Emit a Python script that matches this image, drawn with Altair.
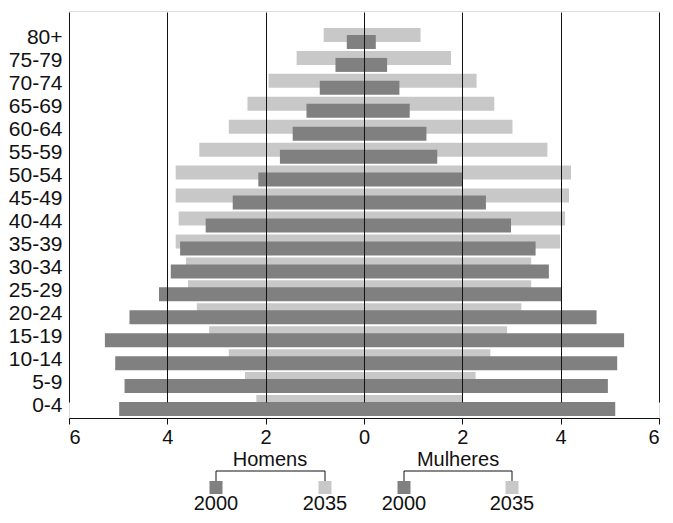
import altair as alt
import pandas as pd

ages = ["0-4", "5-9", "10-14", "15-19", "20-24", "25-29", "30-34", "35-39",
        "40-44", "45-49", "50-54", "55-59", "60-64", "65-69", "70-74", "75-79", "80+"]
male_2000 = [4.98, 4.87, 5.06, 5.27, 4.77, 4.17, 3.93, 3.74, 3.22, 2.67, 2.15, 1.71, 1.45, 1.17, 0.90, 0.58, 0.35]
male_2035 = [2.19, 2.42, 2.75, 3.15, 3.40, 3.58, 3.62, 3.83, 3.77, 3.83, 3.83, 3.35, 2.75, 2.37, 1.94, 1.37, 0.82]
female_2000 = [5.11, 4.96, 5.15, 5.29, 4.73, 4.01, 3.76, 3.49, 2.99, 2.48, 2.00, 1.49, 1.27, 0.93, 0.72, 0.47, 0.24]
female_2035 = [2.00, 2.27, 2.57, 2.91, 3.20, 3.40, 3.40, 3.99, 4.09, 4.17, 4.21, 3.73, 3.02, 2.65, 2.29, 1.77, 1.15]
x_ticks = [-6, -4, -2, 0, 2, 4, 6]
sex_labels = ["Homens", "Mulheres"]
year_labels = ["2000", "2035"]

DARK = "#808080"
LIGHT = "#c8c8c8"
FONT = "Liberation Sans"

rows = []
for i, a in enumerate(ages):
    rows.append({"age": a, "sex": "Homens", "year": "2000", "v": -male_2000[i]})
    rows.append({"age": a, "sex": "Homens", "year": "2035", "v": -male_2035[i]})
    rows.append({"age": a, "sex": "Mulheres", "year": "2000", "v": female_2000[i]})
    rows.append({"age": a, "sex": "Mulheres", "year": "2035", "v": female_2035[i]})
df = pd.DataFrame(rows)

W, H = 590, 407

xscale = alt.Scale(domain=[-6, 6], nice=False, zero=False)
yscale = alt.Scale(domain=ages[::-1], range=[16.0, 406.0], paddingInner=0, paddingOuter=0)

xaxis = alt.Axis(values=x_ticks, labelExpr="abs(datum.value)", title=None,
                 grid=True, gridColor="#111", gridOpacity=1, gridWidth=1,
                 domainColor="#111", tickColor="#111", tickSize=6, tickWidth=1,
                 labelFontSize=20, labelFont=FONT, labelColor="#111", labelPadding=3,
                 zindex=1)
yaxis = alt.Axis(title=None, ticks=False, domain=False, grid=False,
                 labelFontSize=21, labelFont=FONT, labelColor="#111", labelPadding=7)

base = alt.Chart(df)
b2035 = base.transform_filter("datum.year == '2035'").mark_bar(
    color=LIGHT, height=14, yOffset=-3.5).encode(
    x=alt.X("v:Q", scale=xscale, axis=xaxis),
    x2=alt.datum(0),
    y=alt.Y("age:N", scale=yscale, axis=yaxis, sort=ages[::-1]),
)
b2000 = base.transform_filter("datum.year == '2000'").mark_bar(
    color=DARK, height=14, yOffset=3.5).encode(
    x=alt.X("v:Q", scale=xscale, axis=xaxis),
    x2=alt.datum(0),
    y=alt.Y("age:N", scale=yscale, axis=yaxis, sort=ages[::-1]),
)

one = pd.DataFrame({"k": [0]})
legend_layers = []
# (title, title_x, left_x, right_x) in plot pixels
groups = [(sex_labels[0], 201, 147, 256), (sex_labels[1], 389, 335, 443)]
TITLE_Y, BRACKET_Y, SQ_TOP, SQ = 455, 460, 470, 13
YEAR_Y = 499
for title, tx, lx, rx in groups:
    legend_layers.append(alt.Chart(one).mark_text(
        fontSize=20, font=FONT, color="#111", baseline="alphabetic", align="center").encode(
        x=alt.value(tx), y=alt.value(TITLE_Y), text=alt.value(title)))
    legend_layers.append(alt.Chart(one).mark_rule(color="#111", strokeWidth=1).encode(
        x=alt.value(lx), x2=alt.value(rx), y=alt.value(BRACKET_Y)))
    for px, col, yl in [(lx, DARK, year_labels[0]), (rx, LIGHT, year_labels[1])]:
        legend_layers.append(alt.Chart(one).mark_rule(color="#111", strokeWidth=1).encode(
            x=alt.value(px), y=alt.value(BRACKET_Y), y2=alt.value(SQ_TOP)))
        legend_layers.append(alt.Chart(one).mark_rect(color=col).encode(
            x=alt.value(px - SQ / 2), x2=alt.value(px + SQ / 2),
            y=alt.value(SQ_TOP), y2=alt.value(SQ_TOP + SQ)))
        legend_layers.append(alt.Chart(one).mark_text(
            fontSize=20, font=FONT, color="#111", baseline="alphabetic", align="center").encode(
            x=alt.value(px), y=alt.value(YEAR_Y), text=alt.value(yl)))

chart = alt.layer(b2035, b2000, *legend_layers).properties(
    width=W, height=H,
    autosize=alt.AutoSizeParams(type="none"),
    padding={"left": 61, "top": 3, "right": 6, "bottom": 97},
).configure_view(stroke=None).configure(background="white")

chart.save("out.html", embed_options={"renderer": "svg", "actions": False})
